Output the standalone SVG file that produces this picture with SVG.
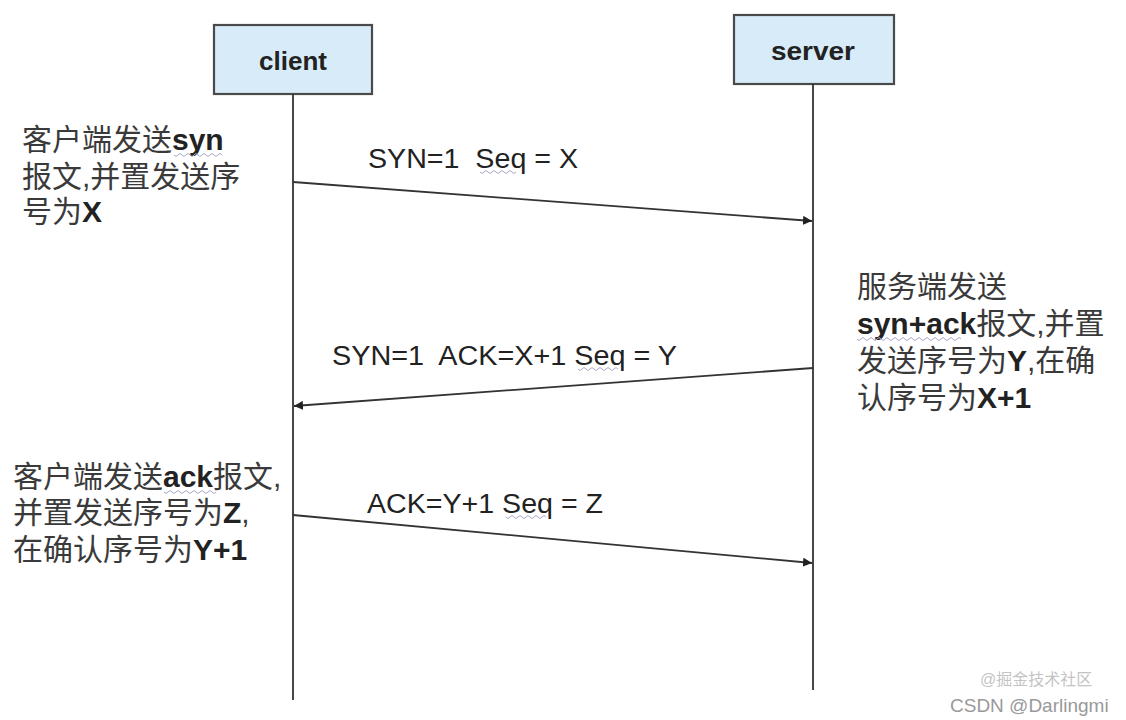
<svg xmlns="http://www.w3.org/2000/svg" width="1126" height="720" viewBox="0 0 1126 720">
<style>
.box{fill:#d8ebf8;stroke:#4a4a4a;stroke-width:2.2}
.life{stroke:#333;stroke-width:1.8;fill:none}
.msg{stroke:#333;stroke-width:1.8;fill:none}
.hdr{font-family:"Liberation Sans","Noto Sans CJK SC",sans-serif;font-size:26px;font-weight:bold;fill:#222}
.lbl{font-family:"Liberation Sans","Noto Sans CJK SC",sans-serif;font-size:27px;fill:#222}
.note{font-family:"Liberation Sans","Noto Sans CJK SC",sans-serif;font-size:30px;fill:#3a3a3a}
.b{font-weight:bold;fill:#222}
.wave{stroke:#a9a9c8;stroke-width:1;fill:none}
.wm{font-family:"Liberation Sans","Noto Sans CJK SC",sans-serif;fill:#999}
</style>
<defs>
<marker id="ah" viewBox="0 0 10 10" refX="10" refY="5" markerWidth="9" markerHeight="9" markerUnits="userSpaceOnUse" orient="auto">
<path d="M0,0 L10,5 L0,10 z" fill="#222"/>
</marker>
</defs>
<rect width="1126" height="720" fill="#fff"/>
<g id="client">
<rect class="box" x="214" y="25" width="158" height="69"/>
<text class="hdr" x="293" y="70" text-anchor="middle">client</text>
</g>
<g id="server">
<rect class="box" x="734" y="15" width="160" height="69"/>
<text class="hdr" x="813" y="60" text-anchor="middle" textLength="84" lengthAdjust="spacingAndGlyphs">server</text>
</g>
<g id="connectors">
<line class="life" x1="293" y1="94" x2="293" y2="700"/>
<line class="life" x1="813" y1="84" x2="813" y2="690"/>
<line class="msg" x1="293" y1="182" x2="812" y2="221" marker-end="url(#ah)"/>
<line class="msg" x1="813" y1="368" x2="294" y2="406" marker-end="url(#ah)"/>
<line class="msg" x1="293" y1="515" x2="812" y2="563" marker-end="url(#ah)"/>
</g>
<g id="labels">
<text class="lbl" x="368" y="168" textLength="210" lengthAdjust="spacingAndGlyphs" xml:space="preserve">SYN=1  Seq = X</text>
<path class="wave" d="M480,172 q2,3 4,0 t4,0 t4,0 t4,0 t4,0 t4,0 t4,0 t4,0 t4,0"/>
<text class="lbl" x="332" y="365" textLength="345" lengthAdjust="spacingAndGlyphs" xml:space="preserve">SYN=1  ACK=X+1 Seq = Y</text>
<path class="wave" d="M578,369 q2,3 4,0 t4,0 t4,0 t4,0 t4,0 t4,0 t4,0 t4,0 t4,0 t4,0"/>
<text class="lbl" x="367" y="513" textLength="236" lengthAdjust="spacingAndGlyphs">ACK=Y+1 Seq = Z</text>
<path class="wave" d="M506,517 q2,3 4,0 t4,0 t4,0 t4,0 t4,0 t4,0 t4,0 t4,0 t4,0 t4,0"/>
</g>
<g id="note-client-syn">
<text class="note" x="22" y="150">客户端发送<tspan class="b">syn</tspan></text>
<path class="wave" d="M174,155 q2,3 4,0 t4,0 t4,0 t4,0 t4,0 t4,0 t4,0 t4,0 t4,0 t4,0 t4,0 t4,0"/>
<text class="note" x="22" y="187">报文,并置发送序</text>
<text class="note" x="22" y="222">号为<tspan class="b">X</tspan></text>
</g>
<g id="note-server">
<text class="note" x="857" y="297">服务端发送</text>
<text class="note" x="857" y="334"><tspan class="b">syn+ack</tspan>报文,并置</text>
<path class="wave" d="M857,339 q2,3 4,0 t4,0 t4,0 t4,0 t4,0 t4,0 t4,0 t4,0 t4,0 t4,0 t4,0 t4,0 t4,0 t4,0 t4,0 t4,0 t4,0 t4,0 t4,0 t4,0 t4,0 t4,0 t4,0 t4,0 t4,0 t4,0"/>
<text class="note" x="857" y="371">发送序号为<tspan class="b">Y</tspan>,在确</text>
<text class="note" x="857" y="408">认序号为<tspan class="b">X+1</tspan></text>
</g>
<g id="note-client-ack">
<text class="note" x="13" y="487">客户端发送<tspan class="b">ack</tspan>报文,</text>
<path class="wave" d="M164,492 q2,3 4,0 t4,0 t4,0 t4,0 t4,0 t4,0 t4,0 t4,0 t4,0 t4,0 t4,0 t4,0 t4,0"/>
<text class="note" x="13" y="523">并置发送序号为<tspan class="b">Z</tspan>,</text>
<text class="note" x="13" y="560">在确认序号为<tspan class="b">Y+1</tspan></text>
</g>
<g id="watermark">
<text class="wm" x="980" y="685" style="fill:#c4c4c4;font-size:16px">@掘金技术社区</text>
<text class="wm" x="950" y="712" style="font-size:19px">CSDN @Darlingmi</text>
</g>
</svg>
